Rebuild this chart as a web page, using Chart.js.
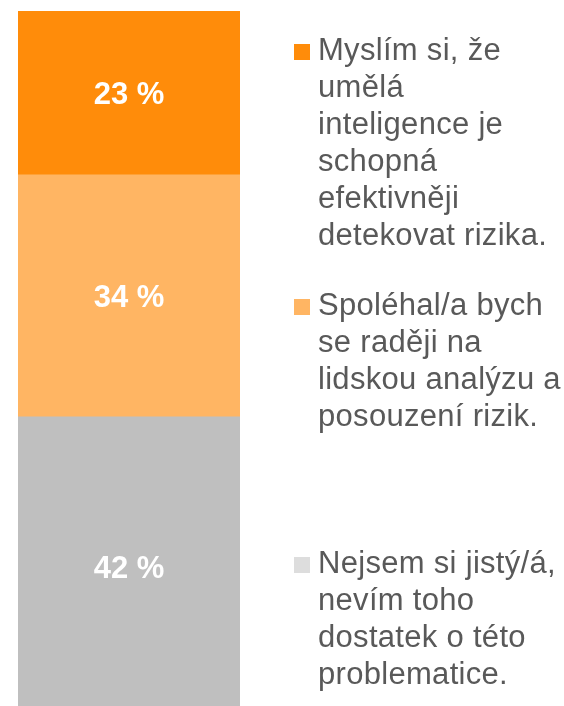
<!DOCTYPE html>
<html>
<head>
<meta charset="utf-8">
<script src="https://cdn.jsdelivr.net/npm/chart.js@4"></script>
<style>
  html, body { margin: 0; padding: 0; background: #ffffff; overflow: hidden; width: 564px; height: 706px; }
  #wrap { position: absolute; left: 0; top: 0; width: 564px; height: 716px; }
  .leg { position: absolute; left: 294px; font-family: "Liberation Sans", Arial, sans-serif; font-size: 31px; letter-spacing: 0.3px; line-height: 37px; color: #595959; white-space: nowrap; }
  .leg .sq { position: absolute; left: 0; top: 13px; width: 16px; height: 16px; }
  .leg .tx { margin-left: 24px; }
</style>
</head>
<body>
<div id="wrap"><canvas id="c"></canvas></div>
<div id="legend"></div>
<script>
const categories = [""];
const seriesNames = [
  ["Myslím si, že", "umělá", "inteligence je", "schopná", "efektivněji", "detekovat rizika."],
  ["Spoléhal/a bych", "se raději na", "lidskou analýzu a", "posouzení rizik."],
  ["Nejsem si jistý/á,", "nevím toho", "dostatek o této", "problematice."]
];
const aiBetter = [23];
const humanAnalysis = [34];
const notSure = [42];

const barColors = ["#FF8C0A", "#FFB563", "#BFBFBF"];
const legendColors = ["#FF8C0A", "#FFB563", "#DDDDDD"];
const legendTops = [30.5, 285.5, 544];

// HTML legend
const legendEl = document.getElementById('legend');
seriesNames.forEach((lines, i) => {
  const d = document.createElement('div');
  d.className = 'leg';
  d.style.top = legendTops[i] + 'px';
  const sq = document.createElement('div');
  sq.className = 'sq';
  sq.style.background = legendColors[i];
  d.appendChild(sq);
  const tx = document.createElement('div');
  tx.className = 'tx';
  tx.innerHTML = lines.join('<br>');
  d.appendChild(tx);
  legendEl.appendChild(d);
});

const labelPlugin = {
  id: 'segLabels',
  afterDatasetsDraw(chart) {
    const ctx = chart.ctx;
    ctx.save();
    ctx.font = 'bold 31px "Liberation Sans", Arial, sans-serif';
    ctx.fillStyle = '#ffffff';
    ctx.textAlign = 'center';
    ctx.textBaseline = 'alphabetic';
    chart.data.datasets.forEach((ds, di) => {
      const meta = chart.getDatasetMeta(di);
      meta.data.forEach((el, i) => {
        const p = el.getCenterPoint();
        ctx.fillText(ds.data[i] + ' %', p.x, p.y + 11.2);
      });
    });
    ctx.restore();
  }
};

new Chart(document.getElementById('c'), {
  type: 'bar',
  data: {
    labels: categories,
    datasets: [
      { label: seriesNames[2].join(' '), data: notSure, backgroundColor: barColors[2] },
      { label: seriesNames[1].join(' '), data: humanAnalysis, backgroundColor: barColors[1] },
      { label: seriesNames[0].join(' '), data: aiBetter, backgroundColor: barColors[0] }
    ]
  },
  options: {
    responsive: true,
    maintainAspectRatio: false,
    animation: false,
    layout: { padding: { left: 18, right: 324, top: 11, bottom: 0 } },
    datasets: { bar: { categoryPercentage: 1, barPercentage: 1, borderWidth: 0 } },
    scales: {
      x: { stacked: true, display: false },
      y: { stacked: true, display: false, min: 0, max: 99 }
    },
    plugins: { legend: { display: false }, tooltip: { enabled: false } }
  },
  plugins: [labelPlugin]
});
</script>
</body>
</html>
